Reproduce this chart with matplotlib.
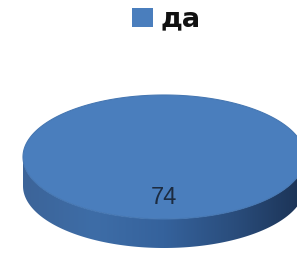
import matplotlib

matplotlib.use("Agg")
import matplotlib.pyplot as plt
import numpy as np
from matplotlib.colors import LinearSegmentedColormap
from matplotlib.patches import Polygon, Rectangle

categories = ["да"]
values = [74]
slice_colors = ["#4A7EBD"]

W, H = 297, 255
fig = plt.figure(figsize=(W / 100, H / 100), dpi=100)
ax = fig.add_axes([0, 0, 1, 1])
ax.set_xlim(0, W)
ax.set_ylim(H, 0)
ax.axis("off")

# 3d pie geometry (pixels)
cx, cy, a, b, depth = 164, 158, 141, 62, 29

total = sum(values)
start = -np.pi / 2
for val, color in zip(values, slice_colors):
    sweep = 2 * np.pi * val / total
    t = np.linspace(start, start + sweep, 400)
    # side wall: only the front half is visible
    tf = np.linspace(0, np.pi, 300)
    top_edge = np.column_stack([cx + a * np.cos(tf), cy + b * np.sin(tf)])
    bot_edge = top_edge[::-1] + [0, depth]
    side = Polygon(np.vstack([top_edge, bot_edge]), closed=True,
                   facecolor="none", edgecolor="none")
    ax.add_patch(side)
    cmap = LinearSegmentedColormap.from_list(
        "side", ["#3C6499", "#3E6DA7", "#35629C", "#2A4D7C", "#1B3254"])
    grad = np.linspace(0, 1, 256)[None, :]
    im = ax.imshow(grad, cmap=cmap, extent=(cx - a, cx + a, cy + b + depth, cy - 2),
                   aspect="auto", zorder=1)
    im.set_clip_path(side)
    ax.set_xlim(0, W)
    ax.set_ylim(H, 0)

    top = Polygon(np.column_stack([cx + a * np.cos(t), cy + b * np.sin(t)]),
                  closed=True, facecolor=color, edgecolor="#4677B2", lw=0.8, zorder=2)
    ax.add_patch(top)
    mid = start + sweep / 2
    ax.text(cx + 0.01 * a * np.cos(mid), cy + 40, str(val), ha="center", va="center",
            fontsize=17, color="#1C2B40", family="Liberation Sans", zorder=3)
    start += sweep

# legend
ax.add_patch(Rectangle((132, 9), 21, 19, facecolor=slice_colors[0], edgecolor="none"))
ax.text(161, 19, categories[0], ha="left", va="center", fontsize=19.5,
        fontweight="bold", family="DejaVu Sans", color="#111111")

fig.savefig("out.png", dpi=100)
